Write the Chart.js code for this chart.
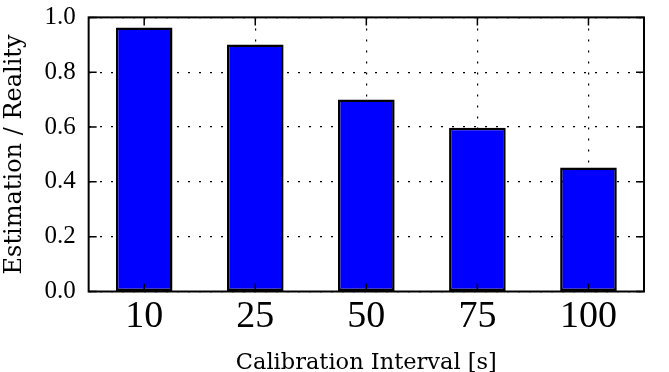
<!DOCTYPE html>
<html>
<head>
<meta charset="utf-8">
<script src="https://cdn.jsdelivr.net/npm/chart.js@4.4.0/dist/chart.umd.min.js"></script>
<style>
  html, body { margin: 0; padding: 0; background: #fff; }
  #wrap { width: 669px; height: 372px; }
</style>
</head>
<body>
<div id="wrap"><canvas id="myChart"></canvas></div>
<script>
const labels = ['10', '25', '50', '75', '100'];
const ratio = [0.963, 0.901, 0.700, 0.597, 0.452];
const yTicks = [0.0, 0.2, 0.4, 0.6, 0.8, 1.0];

// frame + inward tick marks, matplotlib style
const frame = {
    id: 'frame',
    afterDraw(chart) {
        const c = chart.ctx, a = chart.chartArea;
        const x = chart.scales.x, y = chart.scales.y;
        c.save();
        c.strokeStyle = '#000';
        c.lineWidth = 1.5;
        yTicks.forEach(v => {
            const py = y.getPixelForValue(v);
            c.beginPath();
            c.moveTo(a.left, py); c.lineTo(a.left + 8, py);
            c.moveTo(a.right, py); c.lineTo(a.right - 8, py);
            c.stroke();
        });
        labels.forEach((l, i) => {
            const px = x.getPixelForValue(i);
            c.beginPath();
            c.moveTo(px, a.top); c.lineTo(px, a.top + 8);
            c.moveTo(px, a.bottom); c.lineTo(px, a.bottom - 8);
            c.stroke();
        });
        c.lineWidth = 2;
        c.strokeRect(a.left, a.top, a.right - a.left, a.bottom - a.top);
        c.restore();
    }
};

const serif = 'Liberation Serif';
const wide = 'DejaVu Serif';
const ctx = document.getElementById('myChart');
const myChart = new Chart(ctx, {
    type: 'bar',
    data: {
        labels: labels,
        datasets: [{
            label: 'Estimation / Reality',
            data: ratio,
            backgroundColor: 'rgb(0, 0, 255)',
            borderColor: '#000',
            borderWidth: 2.5,
            borderSkipped: false,
            categoryPercentage: 1.0,
            barPercentage: 0.51
        }]
    },
    options: {
        responsive: true,
        maintainAspectRatio: false,
        animation: false,
        layout: { padding: { top: 0, right: 25, left: 0, bottom: 0 } },
        plugins: { legend: { display: false }, tooltip: { enabled: false } },
        scales: {
            x: {
                z: 1,
                grid: { color: '#000', lineWidth: 1.2, offset: false, drawTicks: false },
                border: { display: false, dash: [2, 9] },
                ticks: { color: '#000', padding: 7, font: { family: serif, size: 38, lineHeight: 1 } },
                title: { display: true, text: 'Calibration Interval [s]', color: '#000', padding: { top: 10.5, bottom: 0 },
                         font: { family: wide, size: 22.5, lineHeight: 0.8 } }
            },
            y: {
                z: 1,
                min: 0, max: 1,
                grid: { color: '#000', lineWidth: 1.2, drawTicks: false },
                border: { display: false, dash: [2, 9] },
                afterBuildTicks: s => { s.ticks = yTicks.map(v => ({ value: v })); },
                ticks: { color: '#000', padding: 13, font: { family: serif, size: 25, lineHeight: 0.35 },
                         callback: v => v.toFixed(1) },
                title: { display: true, text: 'Estimation / Reality', color: '#000', padding: { top: 2, bottom: 3 },
                         font: { family: wide, size: 24, lineHeight: 1.1 } }
            }
        }
    },
    plugins: [frame]
});
</script>
</body>
</html>
